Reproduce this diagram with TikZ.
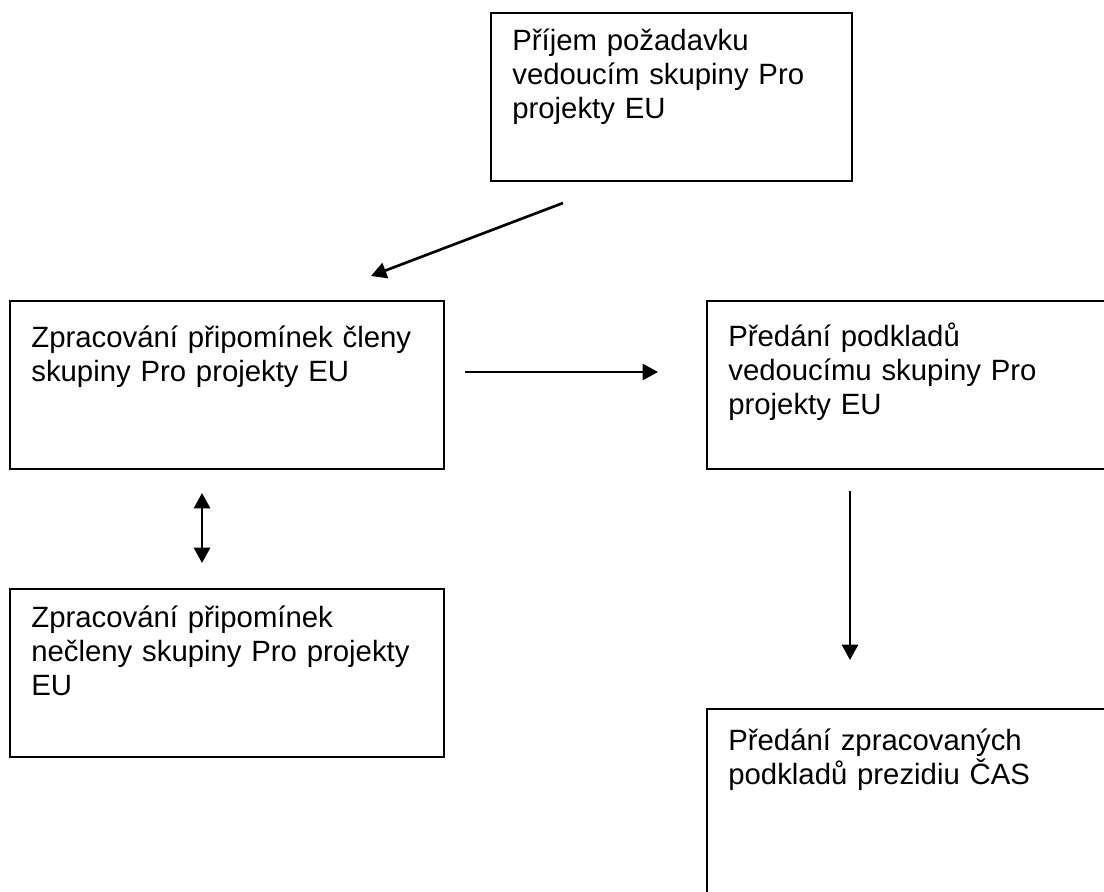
\documentclass[tikz,border=0pt]{standalone}
\usepackage{fontspec}
\setmainfont{Liberation Sans}
\usetikzlibrary{arrows.meta}

\tikzset{every picture/.style={line width=0.75pt}}
\tikzset{
  krok/.style={draw, line width=1.5pt, anchor=north west, align=left,
    inner xsep=16pt, inner ysep=0pt, font=\fontsize{22}{25.5}\selectfont},
  sipka/.style={line width=2pt, -{Triangle[length=11.5pt,width=12pt]}},
  obousipka/.style={line width=2pt, {Triangle[length=11.5pt,width=12pt]}-{Triangle[length=11.5pt,width=12pt]}},
}

\begin{document}
\begin{tikzpicture}[x=0.75pt,y=0.75pt,yscale=-1,xscale=1]
\useasboundingbox (0,0) rectangle (1104,892);

% Boxes
\node[krok, text width=238.75pt, text height=28.5pt, text depth=97.5pt] (prijem) at (490,12)
  {Příjem požadavku\\vedoucím skupiny Pro\\projekty EU};
\node[krok, text width=293.5pt, text height=34.5pt, text depth=91.5pt] (clenove) at (9,300)
  {Zpracování připomínek členy\\skupiny Pro projekty EU};
\node[krok, text width=268pt, text height=33.75pt, text depth=92.25pt] (predani) at (706,300)
  {Předání podkladů\\vedoucímu skupiny Pro\\projekty EU};
\node[krok, text width=293.5pt, text height=28.5pt, text depth=97.5pt] (neclenove) at (9,588)
  {Zpracování připomínek\\nečleny skupiny Pro projekty\\EU};
\node[krok, text width=268pt, text height=30.75pt, text depth=119.25pt] (prezidium) at (706,708)
  {Předání zpracovaných\\podkladů prezidiu ČAS};

% Arrow ends
\coordinate (s1) at (563,203);
\coordinate (e1) at (371,276);
\coordinate (s2) at (465,372);
\coordinate (e2) at (658,372);
\coordinate (s3) at (202,493);
\coordinate (e3) at (202,563);
\coordinate (s4) at (850,491);
\coordinate (e4) at (850,660);

% Arrows
\draw[sipka] (s1) -- (e1);
\draw[sipka] (s2) -- (e2);
\draw[obousipka] (s3) -- (e3);
\draw[sipka] (s4) -- (e4);

\end{tikzpicture}
\end{document}
